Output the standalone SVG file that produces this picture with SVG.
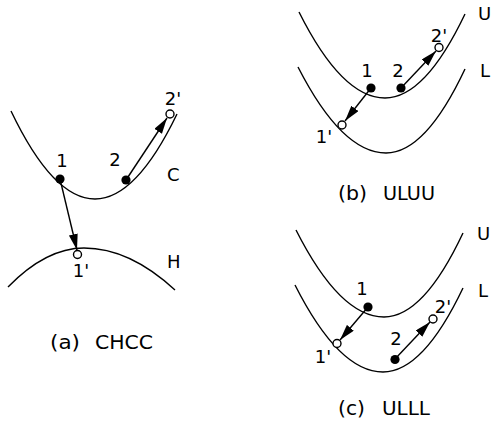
<svg xmlns="http://www.w3.org/2000/svg" width="493" height="429" viewBox="0 0 493 429">
<style>
.curve{fill:none;stroke:#000;stroke-width:1.4}
.arr{fill:none;stroke:#000;stroke-width:1.4;marker-end:url(#ah)}
.dot{fill:#000}
.open{fill:#fff;stroke:#000;stroke-width:1.4}
text{font-family:"DejaVu Sans","Liberation Sans",sans-serif;fill:#000}
.lbl{font-size:18px}
.cap{font-size:19px}
</style>
<defs>
<marker id="ah" markerUnits="userSpaceOnUse" markerWidth="17" markerHeight="10" refX="16" refY="4.5" orient="auto">
<path d="M0,0 L16,4.5 L0,9 Z" fill="#000"/>
</marker>
</defs>
<g id="curves">
<path id="curve-C" class="curve" d="M11,111 Q53,199 95,199 Q136,199 177,114"/>
<path id="curve-H" class="curve" d="M8,287 Q46,248 84,248 Q129.5,248 175,290"/>
<path id="curve-Ub" class="curve" d="M299,12 Q342,98 385,98 Q425,98 465,14"/>
<path id="curve-Lb" class="curve" d="M298,67 Q342,153 386,153 Q425.5,153 465,69"/>
<path id="curve-Uc" class="curve" d="M296,230 Q340,317 384,317 Q423.5,317 463,233"/>
<path id="curve-Lc" class="curve" d="M295,285 Q339,372 383,372 Q423,372 463,288"/>
</g>
<g id="connectors">
<line class="arr" x1="60" y1="179" x2="77" y2="250"/>
<line class="arr" x1="126" y1="180" x2="167" y2="118"/>
<line class="arr" x1="371" y1="88" x2="345" y2="121"/>
<line class="arr" x1="401" y1="88" x2="436" y2="51"/>
<line class="arr" x1="368" y1="307" x2="340" y2="340"/>
<line class="arr" x1="395" y1="359" x2="430" y2="322"/>
</g>
<g id="panel-a">
<circle class="dot" cx="60" cy="179" r="4.6"/>
<circle class="dot" cx="126" cy="180" r="4.6"/>
<circle class="open" cx="170" cy="114" r="4"/>
<circle class="open" cx="77.5" cy="254.5" r="4"/>
<text class="lbl" x="62" y="167" text-anchor="middle">1</text>
<text class="lbl" x="115" y="166" text-anchor="middle">2</text>
<text class="lbl" x="173" y="105" text-anchor="middle">2'</text>
<text class="lbl" x="167" y="181">C</text>
<text class="lbl" x="167" y="268">H</text>
<text class="lbl" x="81" y="277" text-anchor="middle">1'</text>
<text class="cap" x="50" y="349" textLength="30" lengthAdjust="spacingAndGlyphs">(a)</text>
<text class="cap" x="95" y="349" textLength="58" lengthAdjust="spacingAndGlyphs">CHCC</text>
</g>
<g id="panel-b">
<circle class="dot" cx="371" cy="88" r="4.6"/>
<circle class="dot" cx="401" cy="88" r="4.6"/>
<circle class="open" cx="439" cy="47.5" r="4"/>
<circle class="open" cx="342" cy="125" r="4"/>
<text class="lbl" x="367" y="77" text-anchor="middle">1</text>
<text class="lbl" x="398" y="77" text-anchor="middle">2</text>
<text class="lbl" x="439" y="42" text-anchor="middle">2'</text>
<text class="lbl" x="324" y="143" text-anchor="middle">1'</text>
<text class="lbl" x="478" y="20">U</text>
<text class="lbl" x="480" y="77">L</text>
<text class="cap" x="338" y="200" textLength="29" lengthAdjust="spacingAndGlyphs">(b)</text>
<text class="cap" x="383" y="200" textLength="52" lengthAdjust="spacingAndGlyphs">ULUU</text>
</g>
<g id="panel-c">
<circle class="dot" cx="368" cy="307" r="4.6"/>
<circle class="dot" cx="395" cy="359.5" r="4.6"/>
<circle class="open" cx="433" cy="319" r="4"/>
<circle class="open" cx="337" cy="343.5" r="4"/>
<text class="lbl" x="362" y="295" text-anchor="middle">1</text>
<text class="lbl" x="396" y="345" text-anchor="middle">2</text>
<text class="lbl" x="443" y="313" text-anchor="middle">2'</text>
<text class="lbl" x="323" y="363" text-anchor="middle">1'</text>
<text class="lbl" x="477" y="240">U</text>
<text class="lbl" x="478" y="297">L</text>
<text class="cap" x="338" y="415" textLength="27" lengthAdjust="spacingAndGlyphs">(c)</text>
<text class="cap" x="382" y="415" textLength="48" lengthAdjust="spacingAndGlyphs">ULLL</text>
</g>
</svg>
